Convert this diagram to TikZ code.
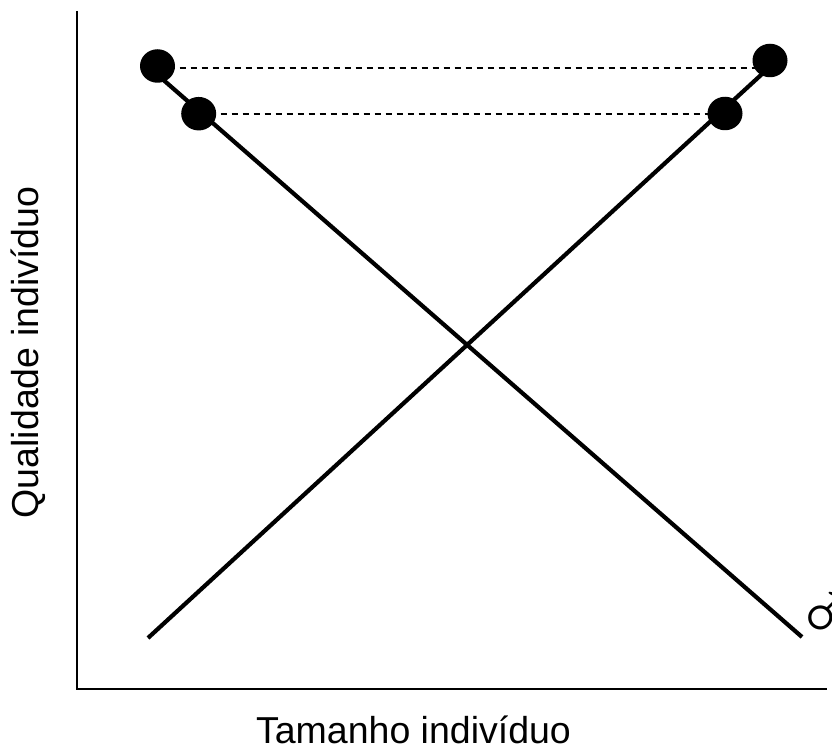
\documentclass[tikz,border=0pt]{standalone}
\usepackage{fontspec}
\setmainfont{Liberation Sans}
\usetikzlibrary{shapes.geometric}
\tikzset{
  dot/.style={ellipse,fill=black,draw=none,minimum width=35pt,minimum height=33.5pt,inner sep=0pt},
  axisline/.style={draw=black,line width=1.5pt},
  curve/.style={draw=black,line width=4.2pt},
  guide/.style={draw=black,line width=1.8pt,dash pattern=on 6pt off 5pt},
  lbl/.style={inner sep=0pt,font=\fontsize{37.5}{37.5}\selectfont}
}
\begin{document}
\begin{tikzpicture}[x=1pt,y=-1pt]
\useasboundingbox (0,0) rectangle (832,749);
\clip (0,0) rectangle (832,749);
\coordinate (origin) at (77,689);
\coordinate (ytop) at (77,11);
\coordinate (xend) at (827,689);
\coordinate (fallend) at (802,637);
\coordinate (falltop) at (160,77);
\coordinate (riseend) at (148,638);
\coordinate (risetop) at (770,66.7);
\coordinate (g1l) at (157.5,68);
\coordinate (g1r) at (770,68);
\coordinate (g2l) at (198.7,114);
\coordinate (g2r) at (725,114);
\draw[axisline] (ytop) -- (origin) -- (xend);
\draw[curve] (falltop) -- (fallend);
\draw[curve] (riseend) -- (risetop);
\draw[guide] (g1l) -- (g1r);
\draw[guide] (g2l) -- (g2r);
\node[dot] (a) at (157.5,66) {};
\node[dot] (b) at (198.7,113.7) {};
\node[dot] (c) at (770,60.5) {};
\node[dot] (d) at (725,113.5) {};
\node[lbl,rotate=90,anchor=base] (ylab) at (38,352.5) {Qualidade indivíduo};
\node[lbl,anchor=base] (xlab) at (413.5,743) {Tamanho indivíduo};
\node[inner sep=0pt,font=\fontsize{86}{86}\selectfont] (male) at (826.5,616) {♂};
\end{tikzpicture}
\end{document}
